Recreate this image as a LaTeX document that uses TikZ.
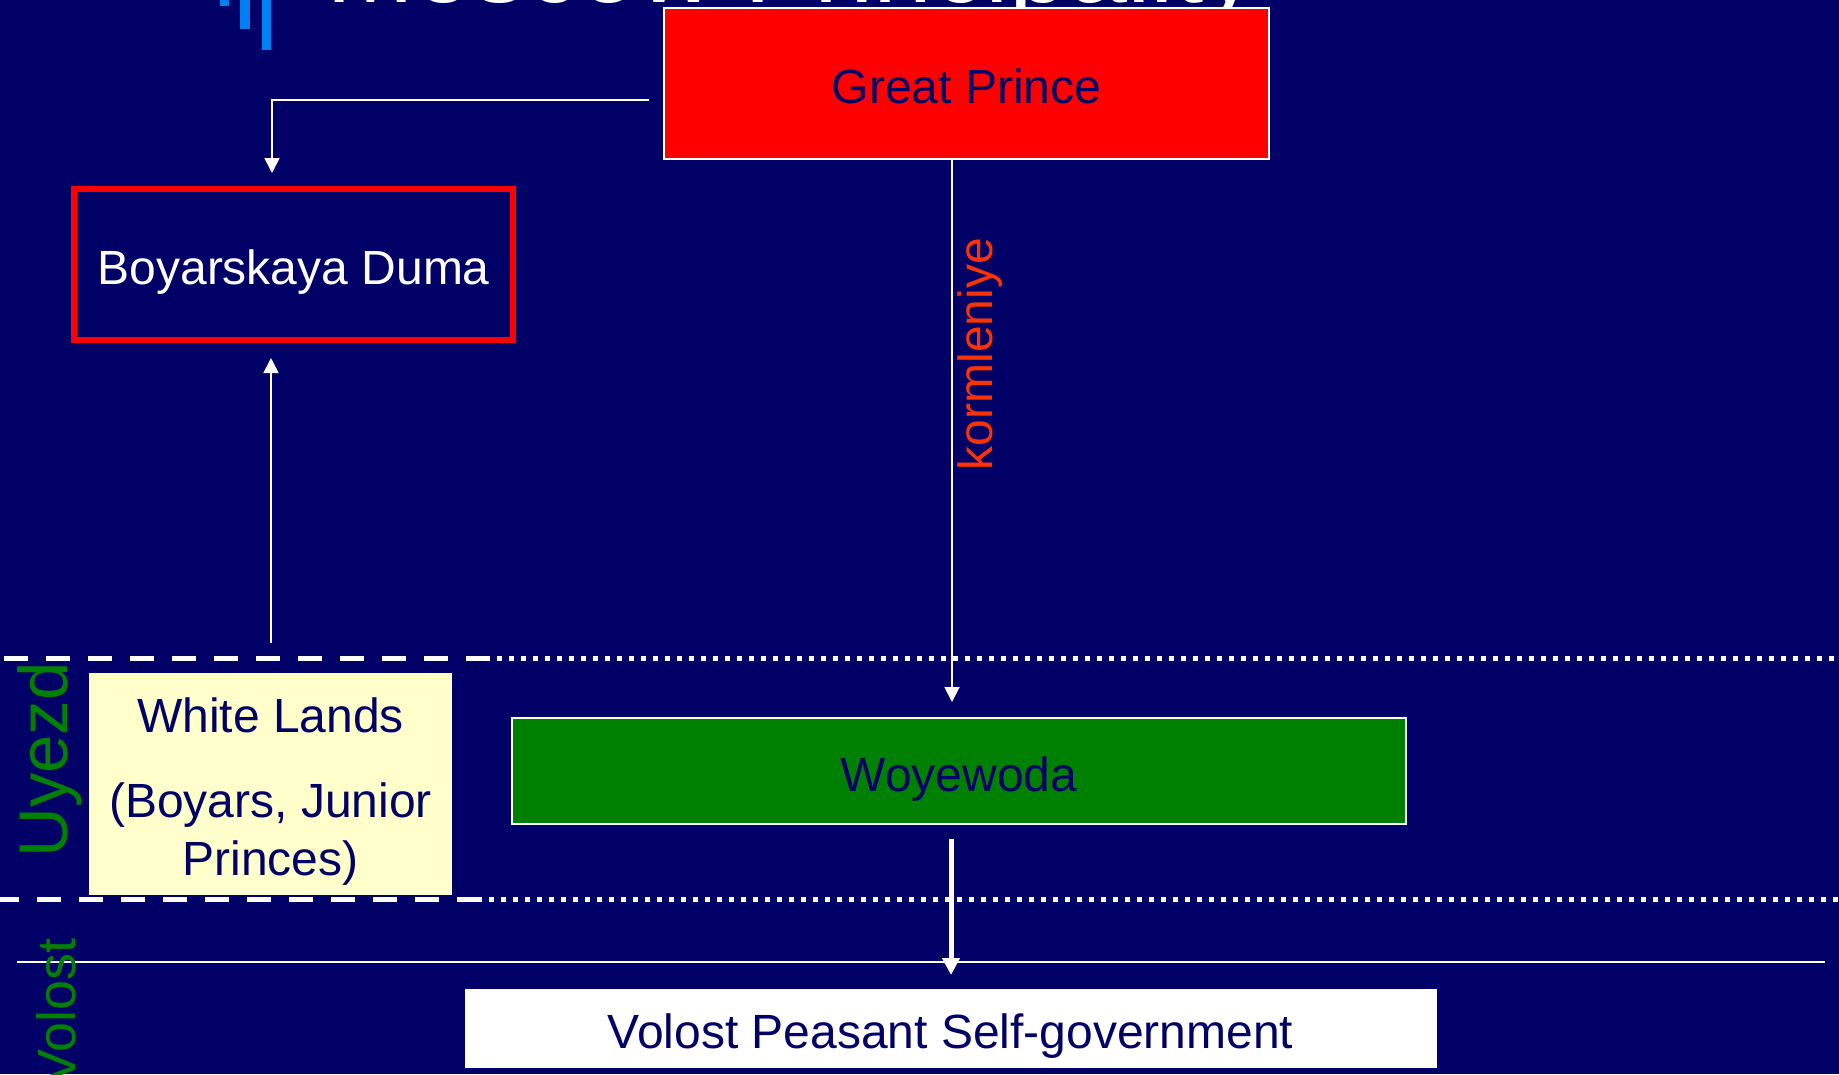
\documentclass[tikz,border=0pt]{standalone}
\usepackage{fontspec}
\setmainfont{Liberation Sans}
\usetikzlibrary{arrows.meta}

\definecolor{bg}{RGB}{0,0,102}
\definecolor{navytext}{RGB}{0,0,102}
\definecolor{boxred}{RGB}{255,0,0}
\definecolor{kormred}{RGB}{255,51,0}
\definecolor{levelgreen}{RGB}{0,128,0}
\definecolor{landyellow}{RGB}{255,255,204}
\definecolor{barblue}{RGB}{0,128,240}

\tikzset{
  boxtext/.style={font=\fontsize{48}{58}\selectfont, text height=40pt, text depth=0pt,
                  inner sep=0pt, outer sep=0pt, rectangle},
  conn/.style={draw=white, line width=1.8pt, -{Triangle[width=15pt,length=15pt]}},
  thickconn/.style={draw=white, line width=5pt, -{Triangle[width=17pt,length=17pt]}},
  levellabel/.style={text=levelgreen, rotate=90, inner sep=0pt},
  dashsep/.style={draw=white, line width=5pt, dash pattern=on 24pt off 18pt},
  dotsep/.style={draw=white, line width=5pt, dash pattern=on 5pt off 7pt},
}

\begin{document}
\begin{tikzpicture}[x=1pt,y=-1pt]
\useasboundingbox (0,0) rectangle (1839,1074);
\clip (0,0) rectangle (1839,1074);
\fill[bg] (0,0) rectangle (1839,1074);

% heading and its ornament
\fill[barblue] (220,0) rectangle (229,6);
\fill[barblue] (240,0) rectangle (250,29);
\fill[barblue] (262,0) rectangle (271,50);
\node[anchor=base west, inner sep=0pt, text=white,
      font=\fontsize{106}{110}\selectfont] (title) at (326,2) {Moscow Principality};

% level separators
\coordinate (uL) at (4,658);
\coordinate (uM) at (485,658);
\coordinate (uR) at (1839,658);
\coordinate (lL) at (-5,899);
\coordinate (lM) at (477,899);
\coordinate (lR) at (1839,899);
\draw[dashsep] (uL) -- (uM);
\draw[dotsep] (uM) -- (uR);
\draw[dashsep] (lL) -- (lM);
\draw[dotsep] (lM) -- (lR);
\coordinate (vL) at (17,962);
\coordinate (vR) at (1825,962);
\draw[white, line width=2pt] (vL) -- (vR);

% boxes
\node[boxtext, fill=boxred, draw=white, line width=2pt, text=navytext,
      minimum width=605pt, minimum height=151pt] (gp) at (966.5,83) {Great Prince};
\node[boxtext, draw=boxred, line width=6pt, text=white,
      minimum width=438.6pt, minimum height=151pt] (bd) at (293.7,264.5) {Boyarskaya Duma};
\node[rectangle, fill=landyellow, inner sep=0pt,
      minimum width=363pt, minimum height=222pt] (wl) at (270.5,784) {};
\node[align=center, text=navytext, inner sep=0pt,
      font=\fontsize{48}{58}\selectfont] (wltext) at (270.5,791.5)
      {White Lands\\[27pt](Boyars, Junior\\Princes)};
\node[boxtext, fill=levelgreen, draw=white, line width=2pt, text=navytext,
      minimum width=894pt, minimum height=106pt] (wy) at (959,771) {Woyewoda};
\node[boxtext, fill=white, draw=white, line width=1pt, text=navytext,
      minimum width=971pt, minimum height=78pt] (vp) at (950.5,1028) {Volost Peasant Self-government};

% level labels
\node[levellabel, anchor=base, font=\fontsize{69}{74}\selectfont] (uyezd) at (67,760) {Uyezd};
\node[levellabel, anchor=base east, font=\fontsize{54}{60}\selectfont] (volost) at (75,938) {Volost};

% connectors
\coordinate (gpout) at (649,100);
\coordinate (bdin) at (272,173);
\draw[conn] (gpout) -| (bdin);

\coordinate (wlout) at (271,643);
\coordinate (bdup) at (271,358);
\draw[conn] (wlout) -- (bdup);

\coordinate (kstart) at (952,158);
\coordinate (kend) at (952,702);
\draw[conn] (kstart) -- (kend);
\node[rotate=90, anchor=base, inner sep=0pt, text=kormred,
      font=\fontsize{48}{58}\selectfont] (korm) at (992,354) {kormleniye};

\coordinate (wyout) at (951,839);
\coordinate (vpin) at (951,975);
\draw[thickconn] (wyout) -- (vpin);
\end{tikzpicture}
\end{document}
